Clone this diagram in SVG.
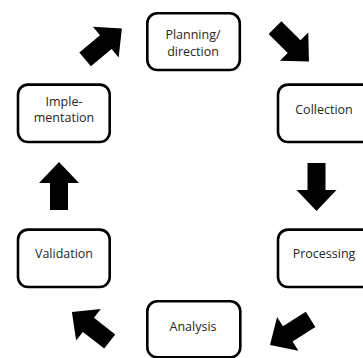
<svg xmlns="http://www.w3.org/2000/svg" width="363" height="358" viewBox="0 0 363 358">
  <style>
    .box rect { fill: #ffffff; stroke: #000000; stroke-width: 2.6; }
    .box text { font-family: "Open Sans", "Noto Sans", sans-serif; font-size: 12.5px; fill: #262626; text-anchor: middle; }
    .arrow { fill: #000000; }
  </style>
  <defs>
    <path id="blk" d="M -24,-9 L 3,-9 L 3,-20 L 24,0 L 3,20 L 3,9 L -24,9 Z"/>
  </defs>
  <rect x="0" y="0" width="363" height="358" fill="#ffffff"/>
  <g id="planning" class="box">
    <rect x="147.3" y="13.3" width="92.5" height="56.7" rx="10"/>
    <text x="193" y="39">Planning/</text>
    <text x="193" y="56">direction</text>
  </g>
  <g id="collection" class="box">
    <rect x="278" y="84.6" width="95" height="57.4" rx="10"/>
    <text x="324" y="114">Collection</text>
  </g>
  <g id="processing" class="box">
    <rect x="278" y="229.6" width="95" height="57.4" rx="10"/>
    <text x="324" y="258">Processing</text>
  </g>
  <g id="analysis" class="box">
    <rect x="147.3" y="301.3" width="93" height="56" rx="10"/>
    <text x="193" y="330.5">Analysis</text>
  </g>
  <g id="validation" class="box">
    <rect x="18" y="229.6" width="91.7" height="57.4" rx="10"/>
    <text x="64" y="258">Validation</text>
  </g>
  <g id="implementation" class="box">
    <rect x="18" y="84.6" width="91.7" height="57.4" rx="10"/>
    <text x="64" y="106">Imple-</text>
    <text x="64" y="121.5">mentation</text>
  </g>
  <g id="connectors" class="arrow">
    <use href="#blk" transform="translate(103.5,44) rotate(-40)"/>
    <use href="#blk" transform="translate(292,44.6) rotate(45)"/>
    <use href="#blk" transform="translate(316.5,187) rotate(90)"/>
    <use href="#blk" transform="translate(290.3,332.2) rotate(147.7)"/>
    <use href="#blk" transform="translate(90.8,326.7) rotate(218)"/>
    <use href="#blk" transform="translate(59,186) rotate(-90)"/>
  </g>
</svg>
